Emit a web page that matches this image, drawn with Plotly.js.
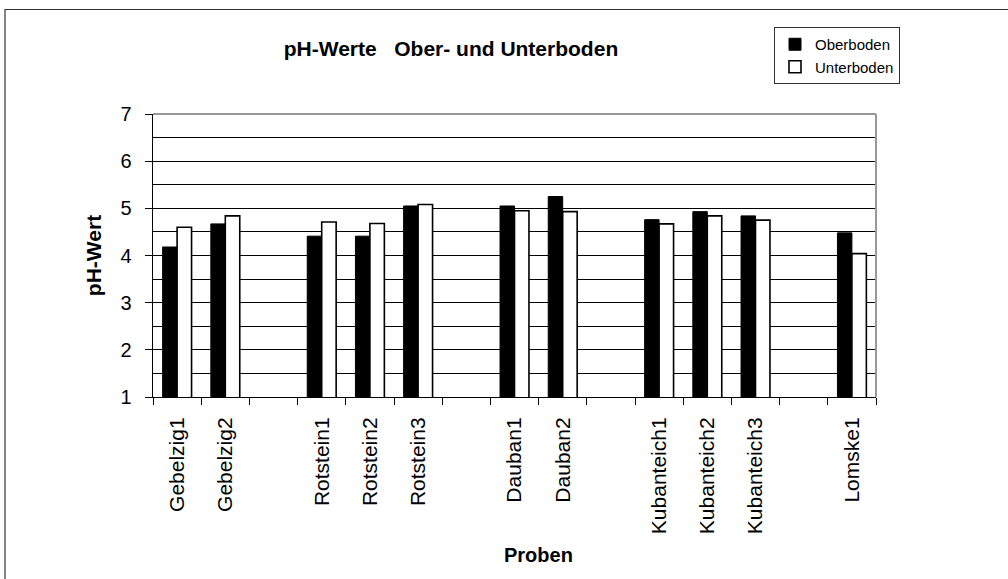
<!DOCTYPE html>
<html>
<head>
<meta charset="utf-8">
<script src="https://cdn.plot.ly/plotly-3.0.1.min.js"></script>
<style>html,body{margin:0;padding:0;background:#fff;}#chart{width:1008px;height:579px;}</style>
</head>
<body>
<div id="chart"></div>
<script>
const categories = ['Gebelzig1','Gebelzig2',' ','Rotstein1','Rotstein2','Rotstein3','  ','Dauban1','Dauban2','   ','Kubanteich1','Kubanteich2','Kubanteich3','    ','Lomske1'];
const oberboden  = [4.18, 4.67, null, 4.41, 4.41, 5.05, null, 5.05, 5.25, null, 4.76, 4.93, 4.84, null, 4.48];
const unterboden = [4.60, 4.84, null, 4.71, 4.68, 5.08, null, 4.95, 4.93, null, 4.67, 4.84, 4.75, null, 4.04];
const yTicks = [1,2,3,4,5,6,7];

const FONT = 'Liberation Sans, Arial, sans-serif';

const traces = [
  {type:'bar', name:'Oberboden', x:categories, y:oberboden,
   marker:{color:'#000000', line:{color:'#000000', width:1}}},
  {type:'bar', name:'Unterboden', x:categories, y:unterboden,
   marker:{color:'#ffffff', line:{color:'#000000', width:1.6}}}
];

const L = 153, R = 876, T = 114, B = 397;
const W = 1008, H = 579;
const pw = R - L, ph = B - T;
function px(x){return (x - L)/pw;}
function py(y){return (B - y)/ph;}

const layout = {
  width: W, height: H,
  margin: {l:L, r:W-R, t:T, b:H-B, pad:0},
  paper_bgcolor:'#ffffff', plot_bgcolor:'#ffffff',
  font:{family:FONT, color:'#000'},
  showlegend:true,
  barmode:'group', bargap:0.4, bargroupgap:0,
  title:{text:'<b>pH-Werte   Ober- und Unterboden</b>', font:{family:FONT, size:21, color:'#000'},
         xref:'container', yref:'container', x:451/W, y:1-49/H, xanchor:'center', yanchor:'middle'},
  legend:{x:px(900), y:py(27), xanchor:'right', yanchor:'top', bordercolor:'#333', borderwidth:1,
          bgcolor:'#fff', font:{family:FONT, size:15, color:'#000'}, itemwidth:30, tracegroupgap:0},
  xaxis:{type:'category', categoryorder:'array', categoryarray:categories,
         showgrid:false, showline:true, linecolor:'#000', linewidth:1,
         ticks:'outside', tickson:'boundaries', ticklen:7, tickcolor:'#000', tickwidth:1,
         tickangle:-90, tickfont:{family:FONT, size:21, color:'#000'}, ticklabelstandoff:11,
         zeroline:false, fixedrange:true},
  yaxis:{range:[1,7], tickvals:yTicks, ticktext:yTicks.map(String),
         showgrid:true, gridcolor:'#000', gridwidth:1,
         minor:{dtick:0.5, showgrid:true, gridcolor:'#000', gridwidth:1, ticks:''},
         showline:true, linecolor:'#000', linewidth:1.5,
         ticks:'outside', ticklen:7, tickcolor:'#000', tickwidth:1,
         tickfont:{family:FONT, size:20, color:'#000'}, ticklabelstandoff:9,
         title:{text:'<b>pH-Wert</b>', font:{family:FONT, size:21, color:'#000'}, standoff:13},
         zeroline:false, fixedrange:true},
  annotations:[
    {text:'<b>Proben</b>', xref:'paper', yref:'paper', x:px(538), y:py(555), xanchor:'center', yanchor:'middle',
     showarrow:false, font:{family:FONT, size:20, color:'#000'}}
  ],
  shapes:[
    {type:'line', xref:'paper', yref:'paper', x0:0, x1:1, y0:1, y1:1, line:{color:'#999', width:2}},
    {type:'line', xref:'paper', yref:'paper', x0:1, x1:1, y0:0, y1:1, line:{color:'#999', width:2}},
    {type:'rect', xref:'paper', yref:'paper', x0:px(5), x1:px(1030), y0:py(9.5), y1:py(600),
     line:{color:'#333', width:1.2}, fillcolor:'rgba(0,0,0,0)', layer:'below'}
  ]
};

Plotly.newPlot('chart', traces, layout, {staticPlot:true, displayModeBar:false});
</script>
</body>
</html>
